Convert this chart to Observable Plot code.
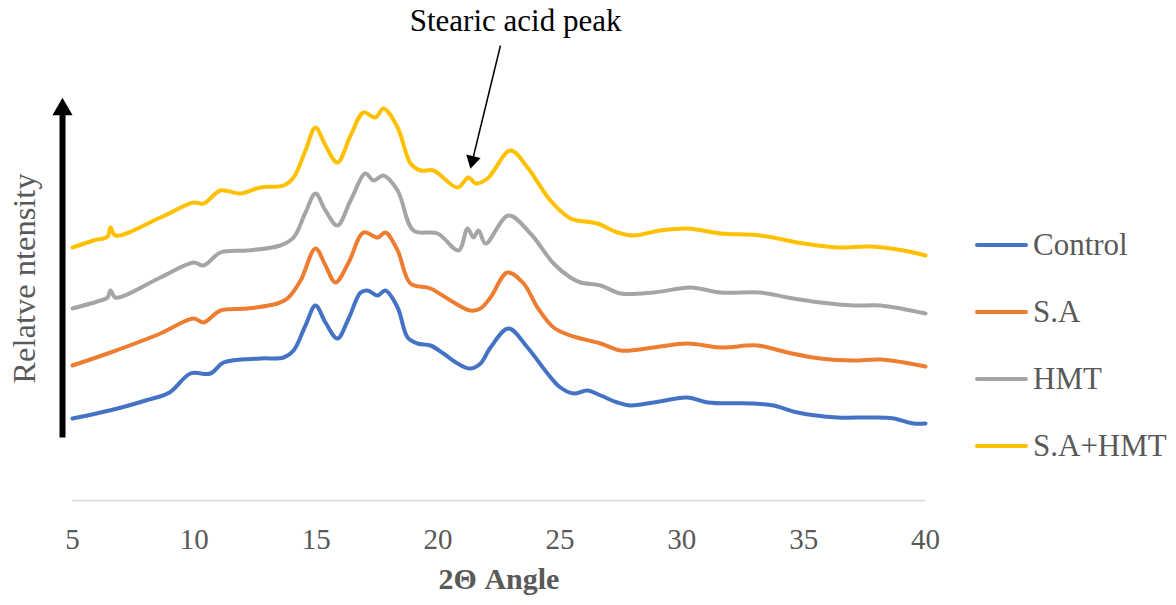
<!DOCTYPE html>
<html><head><meta charset="utf-8">
<script src="https://cdn.jsdelivr.net/npm/d3@7"></script>
<script src="https://cdn.jsdelivr.net/npm/@observablehq/plot@0.6"></script>
<style>
body{margin:0;background:#fff;}
#wrap{position:relative;width:1176px;height:605px;}
#legend{position:absolute;left:975px;top:211px;font-family:"Liberation Serif","Times New Roman",serif;font-size:31px;color:#595959;}
.item{display:flex;align-items:center;height:67px;line-height:1;}
.swatch{width:53px;height:4px;border-radius:2px;margin-right:5px;}
</style></head><body><div id="wrap"></div>
<script>
const seriesNames = ["Control", "S.A", "HMT", "S.A+HMT"];
const seriesColors = ["#4472C4", "#ED7D31", "#A5A5A5", "#FFC000"];
const xTicks = [5, 10, 15, 20, 25, 30, 35, 40];
const xTitle = "2\u0398 Angle";
const yTitle = "Relatve ntensity";

const controlX = [5.00,5.98,7.01,8.00,8.98,9.84,10.66,11.20,12.71,13.66,14.07,14.56,14.97,15.38,15.87,16.33,16.82,17.10,17.52,17.84,18.34,18.75,19.16,19.69,20.22,20.80,21.33,21.74,22.15,22.89,23.67,24.49,25.02,25.56,26.13,26.67,27.36,27.90,28.84,30.24,31.06,32.94,33.77,34.75,36.39,37.74,38.69,39.51,40.00];
const controlY = [82,87,93,100,108,127,127,138,142,143,150,175,195,178,162,182,208,210,205,210,193,163,157,155,147,137,132,137,153,172,153,127,113,107,110,105,98,95,98,103,98,97,95,88,83,83,82,77,77];

const saX = [5.00,6.56,8.61,9.97,10.38,11.07,12.18,13.41,13.82,14.36,14.97,15.38,15.79,16.33,16.94,17.52,17.84,18.34,18.87,19.69,20.51,21.33,21.74,22.15,22.85,23.51,24.08,24.74,25.43,25.85,26.67,27.49,28.84,30.24,31.59,33.11,34.34,35.69,37.05,38.16,40.00];
const saY = [135,148,167,182,178,190,192,197,202,220,252,235,218,238,268,263,268,250,217,212,200,190,192,203,228,217,193,173,165,162,157,150,153,157,153,155,148,142,140,141,134];

const hmtX = [5.00,6.15,6.44,6.56,6.76,8.61,9.97,10.38,11.07,12.18,13.53,14.07,14.56,14.97,15.38,15.87,16.41,17.02,17.35,17.76,18.34,18.99,19.98,20.84,21.21,21.45,21.66,21.95,22.89,23.79,24.74,25.43,25.85,26.67,27.49,28.84,30.36,31.59,33.23,34.34,35.69,37.05,38.16,40.00];
const hmtY = [192,200,203,210,203,223,238,235,248,250,255,263,288,307,290,275,300,327,320,325,310,270,267,250,272,263,270,257,285,267,237,223,218,215,207,208,213,208,208,203,198,195,195,187];

const saHmtX = [5.00,5.86,6.44,6.56,6.76,8.61,9.97,10.38,11.07,11.89,12.71,13.66,14.07,14.56,14.97,15.38,15.87,16.41,16.94,17.43,17.76,18.34,18.87,19.28,19.81,20.80,21.25,21.54,22.03,22.97,23.67,24.61,25.43,25.72,26.54,27.36,28.02,29.13,30.24,31.59,33.23,35.00,36.39,37.74,39.10,40.00];
const saHmtY = [253,260,264,273,265,283,298,297,310,307,313,315,323,350,373,355,338,365,388,383,392,373,337,330,330,313,323,317,322,350,333,300,282,280,277,268,265,270,272,267,265,257,253,254,250,245];

// annotation positions (data units)
const noteText = ["Stearic acid peak"];
const noteTextX = [23.18], noteTextY = [479];
const noteArrowX1 = [22.56], noteArrowY1 = [455], noteArrowX2 = [21.41], noteArrowY2 = [340];
const yArrowX = [4.59], yArrowY1 = [63], yArrowY2 = [391];

const seriesX = [controlX, saX, hmtX, saHmtX];
const seriesY = [controlY, saY, hmtY, saHmtY];
const rows = seriesNames.flatMap((s, i) => seriesX[i].map((x, j) => ({series: s, x, y: seriesY[i][j]})));

const chart = Plot.plot({
  width: 1176, height: 605,
  marginLeft: 72, marginRight: 251, marginTop: 0, marginBottom: 105,
  x: {domain: [5, 40], ticks: xTicks, tickSize: 0, tickPadding: 28, label: null, tickFormat: d => String(d)},
  y: {domain: [0, 500], axis: null},
  color: {domain: seriesNames, range: seriesColors},
  style: {fontFamily: "'Liberation Serif', 'Times New Roman', serif", fontSize: "29px", color: "#595959", background: "#fff", overflow: "visible"},
  marks: [
    Plot.ruleY([0], {stroke: "#D9D9D9", strokeWidth: 1.5}),
    Plot.line(rows, {x: "x", y: "y", z: "series", stroke: "series", strokeWidth: 4, curve: "catmull-rom", strokeLinejoin: "round", strokeLinecap: "round"}),
    // y arrow
    Plot.link(yArrowX, {x1: d => d, x2: d => d, y1: (d, i) => yArrowY1[i], y2: (d, i) => yArrowY2[i], stroke: "black", strokeWidth: 6}),
    Plot.dot(yArrowX, {x: d => d, y: (d, i) => yArrowY2[i], symbol: "triangle", r: 7.5, fill: "black", stroke: "none"}),
    // annotation
    Plot.text(noteText, {x: (d, i) => noteTextX[i], y: (d, i) => noteTextY[i], text: d => d, fontSize: 31, fill: "black", textAnchor: "middle", lineAnchor: "middle"}),
    Plot.link(noteArrowX1, {x1: d => d, y1: (d, i) => noteArrowY1[i], x2: (d, i) => noteArrowX2[i], y2: (d, i) => noteArrowY2[i], stroke: "black", strokeWidth: 1.5}),
    Plot.dot(noteArrowX2, {x: d => d, y: (d, i) => noteArrowY2[i], symbol: "triangle", r: 5.5, rotate: 193.7, fill: "black", stroke: "none"}),
    // titles
    Plot.text([xTitle], {frameAnchor: "bottom", dy: 79, text: d => d, fontWeight: "bold", fontSize: 30, fill: "#595959", textAnchor: "middle", lineAnchor: "middle"}),
    Plot.text([yTitle], {frameAnchor: "left", dx: -48, dy: 28, rotate: -90, text: d => d, fontSize: 32.5, fill: "#595959", textAnchor: "middle", lineAnchor: "middle"})
  ]
});

const wrap = document.getElementById("wrap");
wrap.appendChild(chart);
const legend = document.createElement("div");
legend.id = "legend";
seriesNames.forEach((s, i) => {
  const item = document.createElement("div");
  item.className = "item";
  const sw = document.createElement("span");
  sw.className = "swatch";
  sw.style.background = seriesColors[i];
  const lb = document.createElement("span");
  lb.textContent = s;
  item.appendChild(sw); item.appendChild(lb);
  legend.appendChild(item);
});
wrap.appendChild(legend);
</script>
</body></html>
